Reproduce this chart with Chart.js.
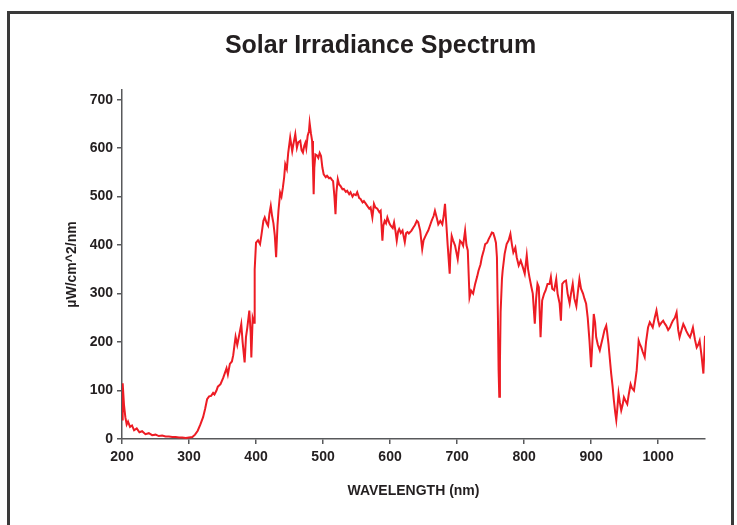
<!DOCTYPE html>
<html>
<head>
<meta charset="utf-8">
<script src="https://cdn.jsdelivr.net/npm/chart.js@4"></script>
<style>
    body { margin: 0; background: #fff; }
    #contenedor { position: relative; width: 737px; height: 525px; }
    #marco {
        position: absolute; left: 7px; top: 11px; width: 727px; height: 540px;
        border: 3px solid #3a3a3a; box-sizing: border-box; pointer-events: none;
    }
</style>
</head>
<body>
<div id="contenedor">
    <canvas id="graficaEspectro"></canvas>
    <div id="marco"></div>
</div>
<script>
var colorRojo = "#ed1c24";
var colorEje = "#58595b";
var colorTexto = "#231f20";
var fuente = "'Liberation Sans', Arial, sans-serif";

// longitud de onda (nm)
var longitudes = [
    200, 201, 203, 205, 207, 209, 212, 215, 218, 222, 226, 230, 235, 240, 245, 250, 255, 260, 265, 270,
    275, 280, 285, 290, 295, 300, 305, 309, 313, 317, 321, 324, 327, 330, 333, 336, 338, 341, 343, 347,
    351, 354, 356, 358, 361, 364, 366, 368, 369.5, 372, 375, 378, 380, 383, 385, 387, 390, 392, 393, 395,
    397, 398, 400, 403, 406, 408, 411, 413, 416, 418, 420, 422, 424, 426, 428, 430, 432, 433.5, 436, 438,
    440, 442, 443.6, 446, 448, 451, 454, 456, 458.6, 461, 463, 466, 468, 470, 472, 473.6, 475, 477, 479, 480,
    482, 483.7, 485, 486, 487, 488.6, 491, 493, 495, 497, 499, 501, 504, 506, 509, 511, 513, 515, 517, 518.6,
    520, 522, 524, 526, 529, 531, 534, 536, 539, 541, 544, 546, 549, 551, 554, 556, 559, 561, 564, 566,
    569, 571, 573.6, 576, 578, 581, 584, 586, 588.6, 590, 592, 594, 596, 599, 601, 604, 606, 608, 610, 612,
    613.6, 616, 618.6, 620, 622, 624, 626, 628, 632, 635, 637, 640, 642, 645, 648, 650, 653, 655, 657, 660,
    662, 665, 667, 670, 672, 675, 678, 680, 682, 684, 686, 689, 690, 692, 694, 697, 699, 701, 703, 704.5,
    707, 709, 712, 714, 716, 718.6, 721, 724, 727, 730, 732, 735, 737, 740, 742, 745, 747, 750, 752, 754,
    756, 758, 759.5, 761, 762, 763, 764, 765, 767, 768, 771, 774, 777, 779.6, 782, 784, 787, 789, 792, 795,
    798, 801, 804, 806, 808, 811, 813, 816, 818, 820, 822, 824.6, 827, 830, 832, 835, 838, 840, 842, 845,
    848, 850, 853, 855, 857, 860, 862.6, 865, 868, 870, 872.6, 875, 878, 880, 882.6, 885, 888, 890, 892.6, 895,
    897.6, 900, 902, 904, 906, 907.6, 910, 913, 915, 917.6, 920, 922.6, 924, 926, 928, 930, 932, 934, 936, 937.6,
    939, 941, 943, 945, 947, 949, 951, 954, 956, 959, 961, 964, 966, 968, 970, 971, 973, 975, 977, 980,
    982, 985, 987.6, 990, 992, 995, 997.6, 1000, 1002, 1005, 1007.6, 1010, 1012, 1015, 1017.6, 1020, 1022, 1025, 1027.6, 1030,
    1032, 1035, 1037.6, 1040, 1042, 1045, 1047.6, 1050, 1052, 1055, 1057.6, 1060, 1062, 1065, 1067.6, 1070
];

// irradiancia (µW/cm^2/nm)
var irradiancia = [
    40, 115, 70, 45, 30, 36, 25, 28, 18, 22, 14, 16, 10, 12, 8, 9, 6, 7, 5, 5,
    4, 4, 3, 3, 2, 3, 4, 9, 17, 30, 45, 62, 82, 88, 89, 95, 92, 100, 108, 113,
    126, 138, 146, 133, 155, 160, 173, 195, 211, 194, 215, 237, 200, 158, 210, 230, 265, 220, 168, 250,
    240, 350, 405, 410, 402, 420, 450, 457, 445, 440, 465, 481, 460, 445, 420, 375, 440, 471, 508, 500,
    518, 540, 567, 557, 590, 622, 594, 610, 629, 601, 612, 615, 596, 591, 605, 611, 600, 625, 635, 652,
    630, 615, 560, 505, 560, 587, 585, 580, 590, 584, 560, 546, 540, 543, 538, 539, 535, 532, 500, 464,
    510, 536, 525, 522, 515, 516, 510, 512, 505, 509, 500, 505, 503, 509, 497, 495, 488, 491, 485, 481,
    475, 478, 457, 485, 478, 475, 468, 471, 409, 440, 450, 445, 457, 445, 440, 435, 447, 430, 409, 428,
    433, 425, 430, 420, 406, 425, 427, 424, 430, 437, 441, 450, 447, 430, 392, 410, 419, 425, 430, 442,
    450, 460, 471, 455, 443, 450, 443, 460, 485, 443, 400, 341, 380, 419, 410, 399, 385, 371, 395, 409,
    405, 399, 430, 400, 389, 292, 306, 300, 320, 335, 347, 360, 375, 390, 402, 405, 412, 420, 426, 425,
    416, 405, 375, 250, 142, 87, 160, 262, 330, 347, 382, 402, 410, 423, 400, 385, 395, 375, 358, 368,
    355, 341, 379, 350, 334, 313, 300, 238, 290, 320, 313, 210, 286, 300, 306, 320, 320, 334, 310, 307,
    330, 300, 280, 244, 320, 325, 327, 300, 280, 300, 320, 290, 274, 300, 330, 310, 300, 290, 279, 250,
    203, 148, 200, 258, 240, 210, 195, 183, 195, 210, 225, 234, 220, 196, 165, 135, 110, 80, 55, 39,
    60, 94, 75, 59, 70, 86, 80, 72, 90, 113, 105, 100, 120, 141, 180, 203, 195, 189, 180, 169,
    200, 230, 241, 235, 230, 250, 265, 245, 234, 240, 244, 238, 234, 225, 230, 238, 244, 250, 261, 225,
    210, 225, 237, 230, 223, 215, 210, 220, 230, 205, 189, 195, 203, 170, 135, 213
];

var ticksX = [200, 300, 400, 500, 600, 700, 800, 900, 1000];
var ticksY = [0, 100, 200, 300, 400, 500, 600, 700];

var puntos = longitudes.map(function (l, i) {
    return { x: l, y: irradiancia[i] };
});

var datosGrafica = {
    datasets: [{
        label: 'Irradiancia',
        data: puntos,
        borderColor: colorRojo,
        backgroundColor: colorRojo,
        borderWidth: 2,
        pointRadius: 0,
        tension: 0,
        fill: false
    }]
};

function soloTicks(lista) {
    return function (scale) {
        scale.ticks = lista.map(function (v) { return { value: v }; });
    };
}

// sin separador de miles
function textoTick(valor) {
    return String(valor);
}

var configuracion = {
    type: 'line',
    data: datosGrafica,
    options: {
        responsive: true,
        maintainAspectRatio: false,
        animation: false,
        layout: { padding: { left: 56, right: 32, top: 0, bottom: 20 } },
        plugins: {
            legend: { display: false },
            tooltip: { enabled: false },
            title: {
                display: true,
                text: 'Solar Irradiance Spectrum',
                color: colorTexto,
                font: { family: fuente, size: 25, weight: 'bold', lineHeight: 1.2 },
                padding: { top: 31, bottom: 29 }
            }
        },
        scales: {
            x: {
                type: 'linear',
                min: 200,
                max: 1070,
                afterBuildTicks: soloTicks(ticksX),
                afterFit: function (scale) { scale.height = 66; },
                border: { color: colorEje, width: 1.5 },
                grid: { drawOnChartArea: false, tickLength: 5, color: colorEje, lineWidth: 1.5 },
                ticks: {
                    color: colorTexto, padding: 5, maxRotation: 0,
                    callback: textoTick,
                    font: { family: fuente, size: 14, weight: 'bold' }
                },
                title: {
                    display: true,
                    text: 'WAVELENGTH (nm)',
                    color: colorTexto,
                    font: { family: fuente, size: 14, weight: 'bold' },
                    padding: { top: 0, bottom: 5 }
                }
            },
            y: {
                min: 0,
                max: 720,
                afterBuildTicks: soloTicks(ticksY),
                afterFit: function (scale) { scale.width = 66; },
                border: { color: colorEje, width: 1.5 },
                grid: { drawOnChartArea: false, tickLength: 5, color: colorEje, lineWidth: 1.5 },
                ticks: {
                    color: colorTexto, padding: 4,
                    callback: textoTick,
                    font: { family: fuente, size: 14, weight: 'bold' }
                },
                title: {
                    display: true,
                    text: 'µW/cm^2/nm',
                    color: colorTexto,
                    font: { family: fuente, size: 14, weight: 'bold' },
                    padding: { top: 8, bottom: 0 }
                }
            }
        }
    }
};

var graficaEspectro = new Chart(
    document.getElementById('graficaEspectro'),
    configuracion
);
</script>
</body>
</html>
